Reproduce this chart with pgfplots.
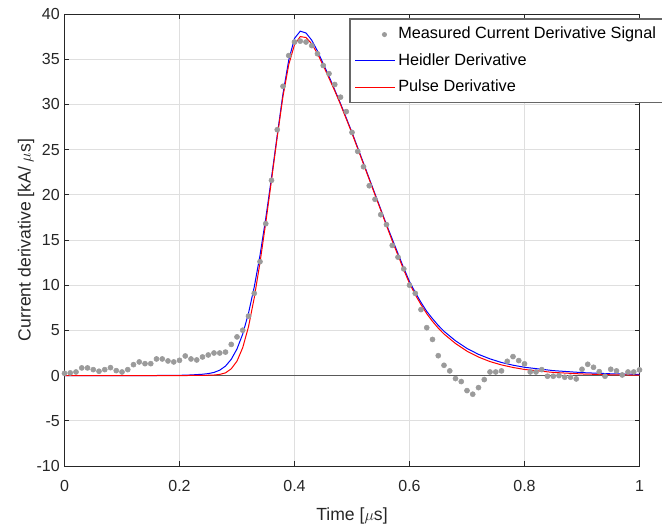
\documentclass[border=0pt]{standalone}
\usepackage{pgfplots}
\pgfplotsset{compat=1.18}
\usepackage{fontspec}
\setmainfont{Liberation Sans}
\definecolor{measgray}{RGB}{155,155,155}
\definecolor{axgray}{RGB}{38,38,38}
\definecolor{gridgray}{RGB}{223,223,223}
\begin{document}
\begin{tikzpicture}
\begin{axis}[
  name=ax,
  at={(0,0)}, anchor=south west,
  scale only axis,
  width=431.25pt, height=339pt,
  xmin=0, xmax=1, ymin=-10, ymax=40,
  xtick={0,0.2,0.4,0.6,0.8,1},
  xticklabels={0,0.2,0.4,0.6,0.8,1},
  ytick={-10,-5,0,5,10,15,20,25,30,35,40},
  /pgf/number format/assume math mode=true,
  tick align=inside,
  major tick length=3.75pt,
  grid=major,
  major grid style={gridgray, line width=0.5pt},
  axis line style={axgray, line width=0.6pt},
  every tick/.style={axgray, line width=0.6pt},
  tick label style={font=\fontsize{12}{14}\selectfont, text=axgray},
  xticklabel style={yshift=-7pt},
  label style={font=\fontsize{13.2}{15}\selectfont, text=axgray},
  xlabel={Time [$\mu$s]},
  xlabel style={yshift=-5.5pt},
  ylabel={Current derivative [kA/ $\mu$s]},
  ylabel style={yshift=-5pt},
  legend cell align=left,
  legend style={
    at={(rel axis cs:0.4965,0.989)}, anchor=north west,
    draw=none, fill=white,
    font=\fontsize{12.2}{14}\selectfont,
    inner sep=3.25pt, row sep=3.2pt,
    nodes={inner sep=2pt, text height=9.5pt, text depth=3pt},
  },
]
\addplot[black!65, line width=1pt, forget plot] coordinates {(0,0) (1,0)};
\addplot[only marks, mark=*, mark size=1.9pt, color=measgray, forget plot]
coordinates {
(0.00,0.25) (0.01,0.30) (0.02,0.40) (0.03,0.85) (0.04,0.85) (0.05,0.66) (0.06,0.48) (0.07,0.66) (0.08,0.88) (0.09,0.55)
(0.10,0.40) (0.11,0.66) (0.12,1.21) (0.13,1.51) (0.14,1.32) (0.15,1.32) (0.16,1.84) (0.17,1.84) (0.18,1.62) (0.19,1.51)
(0.20,1.69) (0.21,2.17) (0.22,1.84) (0.23,1.73) (0.24,2.06) (0.25,2.28) (0.26,2.50) (0.27,2.50) (0.28,2.60) (0.29,3.45)
(0.30,4.28) (0.31,5.02) (0.32,6.58) (0.33,9.1) (0.34,12.6) (0.35,16.8) (0.36,21.6) (0.37,27.2) (0.38,32.0) (0.39,35.4)
(0.40,36.9) (0.41,37.0) (0.42,36.9) (0.43,36.5) (0.44,35.6) (0.45,34.3) (0.46,33.4) (0.47,32.2) (0.48,30.8) (0.49,29.2)
(0.50,26.9) (0.51,24.8) (0.52,23.1) (0.53,21.0) (0.54,19.5) (0.55,17.8) (0.56,16.7) (0.57,14.4) (0.58,13.1) (0.59,11.8)
(0.60,10.0) (0.61,9.1) (0.62,7.3) (0.63,5.3) (0.64,4.0) (0.65,2.2) (0.66,1.14) (0.67,0.52) (0.68,-0.33) (0.69,-0.66)
(0.70,-1.66) (0.71,-2.06) (0.72,-1.33) (0.73,-0.44) (0.74,0.40) (0.75,0.40) (0.76,0.52) (0.77,1.58) (0.78,2.10) (0.79,1.66)
(0.80,1.30) (0.81,0.40) (0.82,0.40) (0.83,0.66) (0.84,-0.07) (0.85,-0.07) (0.86,0.0) (0.87,-0.18) (0.88,-0.18) (0.89,-0.37)
(0.90,0.70) (0.91,1.25) (0.92,0.92) (0.93,0.44) (0.94,-0.07) (0.95,0.70) (0.96,0.52) (0.97,0.07) (0.98,0.40) (0.99,0.40)
(1.00,0.63)
};
\addplot[blue, line width=0.75pt, forget plot] coordinates {
(0,0) (0.10,0) (0.15,0.005) (0.20,0.03) (0.22,0.07) (0.24,0.15) (0.25,0.22) (0.26,0.35) (0.27,0.6) (0.28,1.05) (0.29,1.8)
(0.30,2.95) (0.31,4.6) (0.32,6.9) (0.33,9.8) (0.34,13.3) (0.35,17.4) (0.36,21.9) (0.37,26.6) (0.38,31.2) (0.39,34.9)
(0.40,37.3) (0.41,38.1) (0.42,37.9) (0.43,37.1) (0.44,35.9) (0.45,34.5) (0.46,33.1) (0.47,31.6) (0.48,30.1) (0.49,28.5)
(0.50,26.9) (0.51,25.2) (0.52,23.5) (0.53,21.8) (0.54,20.1) (0.55,18.4) (0.56,16.7) (0.57,15.1) (0.58,13.5) (0.59,11.9)
(0.60,10.4) (0.61,9.2) (0.62,8.1) (0.63,7.1) (0.64,6.3) (0.65,5.55) (0.66,4.9) (0.68,3.85) (0.70,3.0) (0.72,2.35)
(0.74,1.85) (0.76,1.45) (0.78,1.15) (0.80,0.92) (0.85,0.55) (0.90,0.33) (0.95,0.2) (1.00,0.13)
};
\addplot[red, line width=0.75pt, forget plot] coordinates {
(0,0) (0.15,0) (0.20,0.005) (0.24,0.02) (0.26,0.06) (0.27,0.13) (0.28,0.3) (0.29,0.75)
(0.30,1.6) (0.31,3.1) (0.32,5.4) (0.33,8.6) (0.34,12.5) (0.35,16.9) (0.36,21.6) (0.37,26.4) (0.38,30.9) (0.39,34.4)
(0.40,36.6) (0.41,37.5) (0.42,37.4) (0.43,36.7) (0.44,35.6) (0.45,34.3) (0.46,32.9) (0.47,31.5) (0.48,30.0) (0.49,28.4)
(0.50,26.8) (0.51,25.1) (0.52,23.4) (0.53,21.7) (0.54,20.0) (0.55,18.3) (0.56,16.6) (0.57,14.9) (0.58,13.3) (0.59,11.7)
(0.60,10.2) (0.61,8.95) (0.62,7.85) (0.63,6.85) (0.64,6.0) (0.65,5.25) (0.66,4.6) (0.68,3.55) (0.70,2.7) (0.72,2.05)
(0.74,1.55) (0.76,1.18) (0.78,0.9) (0.80,0.68) (0.85,0.35) (0.90,0.18) (0.95,0.09) (1.00,0.05)
};
\addlegendimage{legend image code/.code={\path[draw=none] (0pt,0pt) -- (30pt,0pt); \path[draw=none, fill=measgray] (22pt,0pt) circle (1.9pt);}}
\addlegendentry{Measured Current Derivative Signal}
\addlegendimage{legend image code/.code={\draw[blue, line width=0.8pt] (0pt,0pt) -- (30pt,0pt);}}
\addlegendentry{Heidler Derivative}
\addlegendimage{legend image code/.code={\draw[red, line width=0.8pt] (0pt,0pt) -- (30pt,0pt);}}
\addlegendentry{Pulse Derivative}
\end{axis}
\draw[black!60, line width=0.9pt] ([shift={(214.1pt,272.9pt)}]ax.south west) rectangle ([shift={(462pt,335.3pt)}]ax.south west);
\pgfresetboundingbox
\path[use as bounding box] ([shift={(-48.375pt,-45.75pt)}]ax.south west) rectangle ([shift={(448.125pt,349.5pt)}]ax.south west);
\end{tikzpicture}
\end{document}
